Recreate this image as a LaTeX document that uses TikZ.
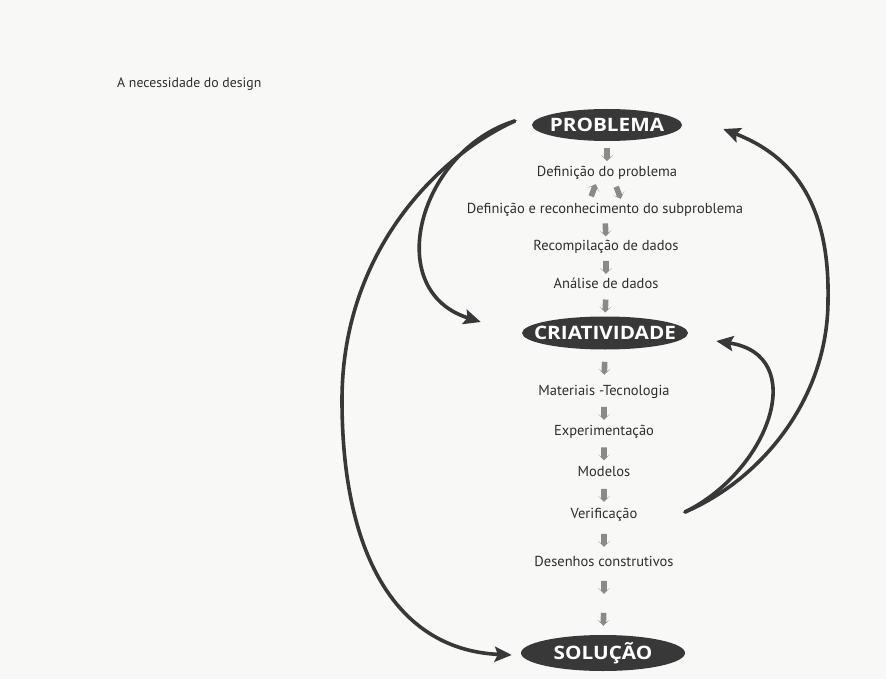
\documentclass[tikz,border=0pt]{standalone}
\usepackage{fontspec}
\setmainfont{PT Sans}
\newfontfamily\efont[FakeStretch=1.12]{Open Sans}
\usetikzlibrary{shapes.geometric,shapes.arrows,arrows.meta,calc}
\definecolor{inkdark}{HTML}{383838}
\definecolor{inkgray}{HTML}{8A8A8A}
\definecolor{paper}{HTML}{F8F8F7}
\definecolor{txt}{HTML}{2E2E2E}
\begin{document}
\begin{tikzpicture}[x=1pt,y=-1pt,
  eshape/.style={ellipse,fill=inkdark,minimum width=150pt,minimum height=32pt,inner sep=0pt},
  elabel/.style={text=white,font=\efont\fontsize{18.5}{18.5}\selectfont\bfseries,inner sep=0pt},
  item/.style={text=txt,font=\fontsize{14.5}{15}\selectfont,inner sep=1pt,text height=10.5pt,text depth=3pt},
  sarr/.style={single arrow,fill=inkgray,draw=none,inner xsep=0pt,inner ysep=2.6pt,minimum height=13pt,
    single arrow head extend=3.2pt,single arrow head indent=2.5pt,sloped,allow upside down},
  bigarrow/.style={draw=inkdark,line width=3.6pt,line cap=round,
    -{Stealth[length=17pt,width=15pt,inset=3pt]}}
]
\fill[paper] (0,0) rectangle (886,679);
\useasboundingbox (0,0) rectangle (886,679);

\node[text=txt,font=\fontsize{13.8}{14}\selectfont,anchor=west,inner sep=0pt] (title) at (117,84) {A necessidade do design};

\node[eshape,label={[elabel]center:PROBLEMA}] (problema) at (607,125) {};
\node[item] (t1) at (607,173) {Definição do problema};
\node[item] (t2) at (605,210) {Definição e reconhecimento do subproblema};
\node[item] (t3) at (606,247) {Recompilação de dados};
\node[item] (t4) at (606,285) {Análise de dados};
\node[eshape,minimum width=166pt,minimum height=33pt,label={[elabel]center:CRIATIVIDADE}] (criat) at (605,333) {};
\node[item] (t5) at (604,392) {Materiais -Tecnologia};
\node[item] (t6) at (604,432) {Experimentação};
\node[item] (t7) at (604,473) {Modelos};
\node[item] (t8) at (604,515) {Verificação};
\node[item] (t9) at (604,563) {Desenhos construtivos};
\coordinate (mid) at (604,601);
\node[eshape,minimum width=164pt,minimum height=36pt,label={[elabel]center:SOLUÇÃO}] (sol) at (603,653) {};

% small grey arrows
\path (problema.south) -- node[sarr]{} (t1.north);
\path ($(t2.north)+(-16,0)$) -- node[sarr]{} ($(t1.south)+(-10,0)$);
\path ($(t1.south)+(7,0)$) -- node[sarr]{} ($(t2.north)+(17,0)$);
\path (t2.south) -- node[sarr]{} (t3.north);
\path (t3.south) -- node[sarr]{} (t4.north);
\path (t4.south) -- node[sarr]{} (criat.north);
\path (criat.south) -- node[sarr]{} (t5.north);
\path (t5.south) -- node[sarr]{} (t6.north);
\path (t6.south) -- node[sarr]{} (t7.north);
\path (t7.south) -- node[sarr]{} (t8.north);
\path (t8.south) -- node[sarr]{} (t9.north);
\path (t9.south) -- node[sarr]{} (mid);
\path (mid) -- node[sarr]{} (sol.north);

% big curved arrows
\draw[bigarrow] ($(problema.west)+(-17,-4)$) .. controls (420,150) and (380,290) .. ($(criat.west)+(-41,-11)$);
\draw[bigarrow] ($(problema.west)+(-17,-4)$) .. controls (440,155) and (342,250) .. (342,400)
   .. controls (342,560) and (400,650) .. ($(sol.west)+(-9,2)$);
\draw[bigarrow] ($(t8.center)+(81,-3)$) .. controls (760,480) and (828,400) .. (828,300)
   .. controls (830,200) and (790,155) .. ($(problema.east)+(41,4)$);
\draw[bigarrow] ($(t8.center)+(81,-3)$) .. controls (770,470) and (810,355) .. ($(criat.east)+(28,8)$);
\end{tikzpicture}
\end{document}
